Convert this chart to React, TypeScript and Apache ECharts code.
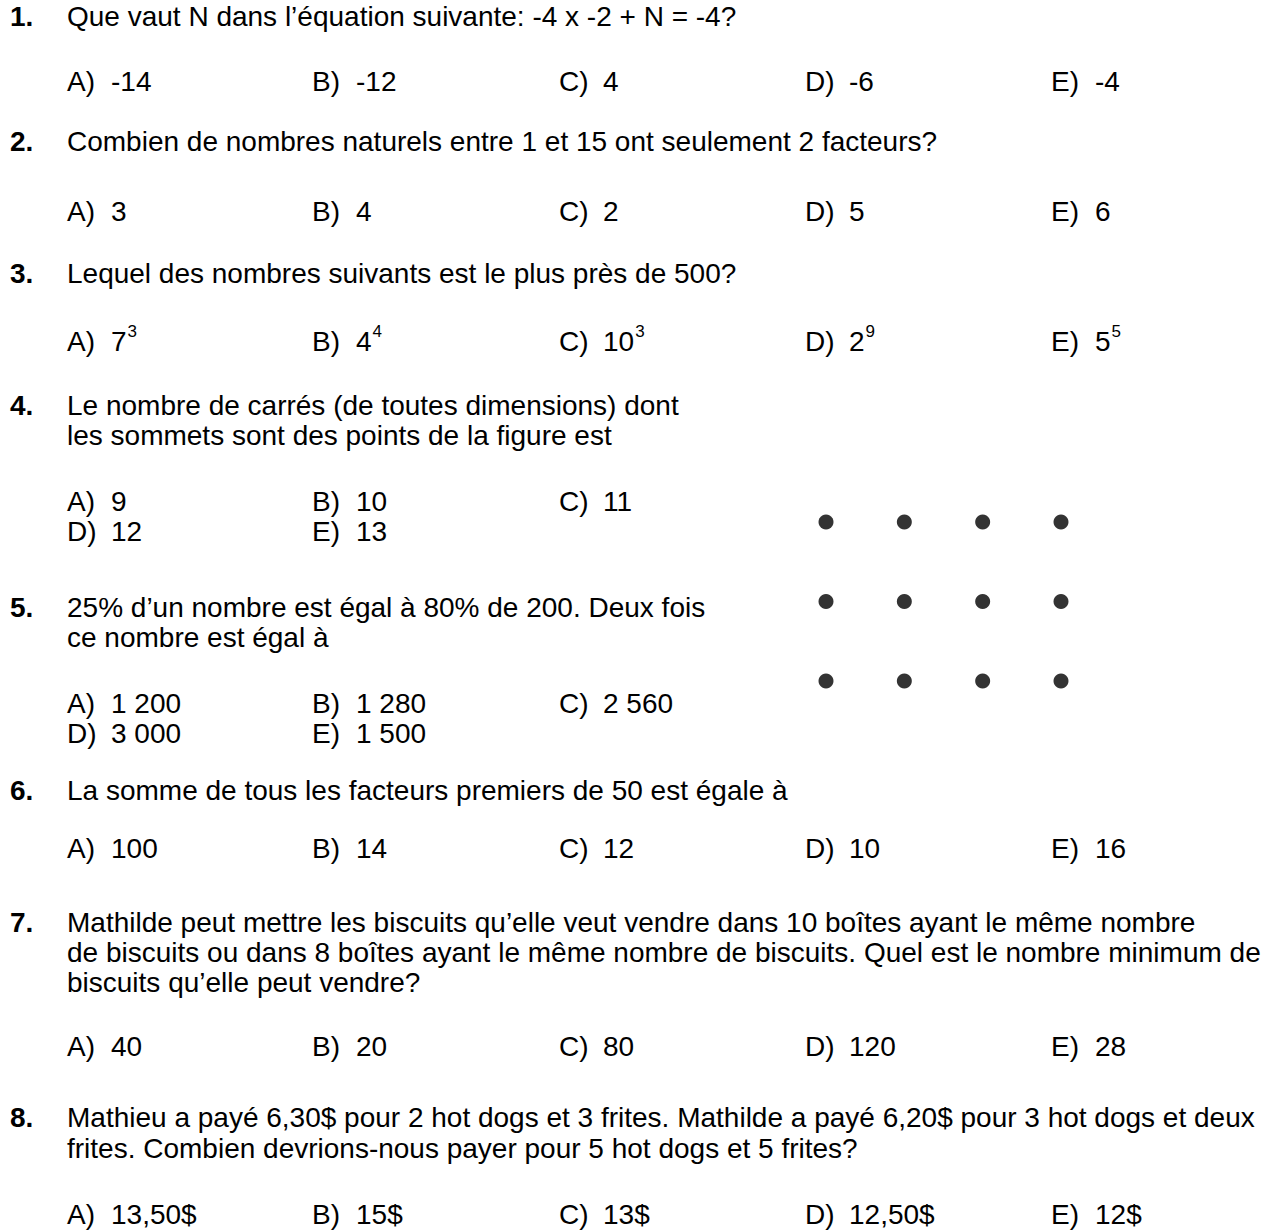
import React, { useEffect, useRef } from "react";
import * as echarts from "echarts";

const questionNumbers = ["1.", "2.", "3.", "4.", "5.", "6.", "7.", "8."];
const questionLines = [
  ["Que vaut N dans l’équation suivante: -4 x -2 + N = -4?"],
  ["Combien de nombres naturels entre 1 et 15 ont seulement 2 facteurs?"],
  ["Lequel des nombres suivants est le plus près de 500?"],
  ["Le nombre de carrés (de toutes dimensions) dont", "les sommets sont des points de la figure est"],
  ["25% d’un nombre est égal à 80% de 200. Deux fois", "ce nombre est égal à"],
  ["La somme de tous les facteurs premiers de 50 est égale à"],
  [
    "Mathilde peut mettre les biscuits qu’elle veut vendre dans 10 boîtes ayant le même nombre",
    "de biscuits ou dans 8 boîtes ayant le même nombre de biscuits. Quel est le nombre minimum de",
    "biscuits qu’elle peut vendre?",
  ],
  [
    "Mathieu a payé 6,30$ pour 2 hot dogs et 3 frites. Mathilde a payé 6,20$ pour 3 hot dogs et deux",
    "frites. Combien devrions-nous payer pour 5 hot dogs et 5 frites?",
  ],
];
const questionLineY = [[16], [141], [273], [405, 435], [607, 637], [790], [922, 952, 982], [1117, 1148]];

const optionLabels = ["A)", "B)", "C)", "D)", "E)"];
const optionValues = [
  ["-14", "-12", "4", "-6", "-4"],
  ["3", "4", "2", "5", "6"],
  ["7", "4", "10", "2", "5"],
  ["9", "10", "11", "12", "13"],
  ["1 200", "1 280", "2 560", "3 000", "1 500"],
  ["100", "14", "12", "10", "16"],
  ["40", "20", "80", "120", "28"],
  ["13,50$", "15$", "13$", "12,50$", "12$"],
];
const optionSuperscripts = [null, null, ["3", "4", "3", "9", "5"], null, null, null, null, null];
const optionRowY = [[81], [211], [341], [501, 531], [703, 733], [848], [1046], [1214]];
const wideLayout = [[0, 0], [0, 1], [0, 2], [0, 3], [0, 4]];
const splitLayout = [[0, 0], [0, 1], [0, 2], [1, 0], [1, 1]];
const optionLayouts = [wideLayout, wideLayout, wideLayout, splitLayout, splitLayout, wideLayout, wideLayout, wideLayout];

const dotColumns = [0, 1, 2, 3];
const dotRows = [0, 1, 2];

const FONT = "'Liberation Sans', Arial, Helvetica, sans-serif";
const FS = 28;
const TEXT_X = 67;
const NUM_X = 10;
const COL_X = [67, 312, 559, 805, 1051];
const VALUE_OFFSET = 44;

function measure(text: string, size: number, weight = "normal") {
  const c = document.createElement("canvas").getContext("2d");
  if (!c) return text.length * size * 0.55;
  c.font = `${weight} ${size}px ${FONT}`;
  return c.measureText(text).width;
}

export default function App() {
  const ref = useRef<HTMLDivElement>(null);
  useEffect(() => {
    document.body.style.margin = "0";
    if (!ref.current) return;
    const chart = echarts.init(ref.current, null, { renderer: "svg" });
    const elements: any[] = [];
    const txt = (text: string, x: number, y: number, opts: any = {}) =>
      elements.push({
        type: "text",
        x,
        y,
        style: {
          text,
          fontSize: opts.fontSize || FS,
          fontFamily: FONT,
          fontWeight: opts.fontWeight || "normal",
          fill: "#000",
          textAlign: "left",
          textVerticalAlign: "middle",
        },
      });

    questionNumbers.forEach((num, qi) => {
      txt(num, NUM_X, questionLineY[qi][0], { fontWeight: "bold" });
      questionLines[qi].forEach((line, li) => txt(line, TEXT_X, questionLineY[qi][li]));
      optionLabels.forEach((lab, oi) => {
        const [row, col] = optionLayouts[qi][oi];
        const y = optionRowY[qi][row];
        const x = COL_X[col];
        txt(lab, x, y);
        const val = optionValues[qi][oi];
        txt(val, x + VALUE_OFFSET, y);
        const sup = optionSuperscripts[qi];
        if (sup) {
          const w = measure(val, FS);
          txt(sup[oi], x + VALUE_OFFSET + w + 1, y - 10, { fontSize: 17 });
        }
      });
    });

    const dots: number[][] = [];
    dotRows.forEach((r) => dotColumns.forEach((c) => dots.push([c, r])));

    chart.setOption({
      animation: false,
      backgroundColor: "#fff",
      grid: { left: 826, top: 522, width: 235, height: 159 },
      xAxis: { type: "value", min: 0, max: 3, show: false },
      yAxis: { type: "value", min: 0, max: 2, inverse: true, show: false },
      series: [
        {
          type: "scatter",
          data: dots,
          symbol: "circle",
          symbolSize: 15,
          itemStyle: { color: "#000" },
          silent: true,
        },
      ],
      graphic: { elements },
    });
    return () => chart.dispose();
  }, []);
  return <div ref={ref} style={{ width: 1269, height: 1230 }} />;
}
